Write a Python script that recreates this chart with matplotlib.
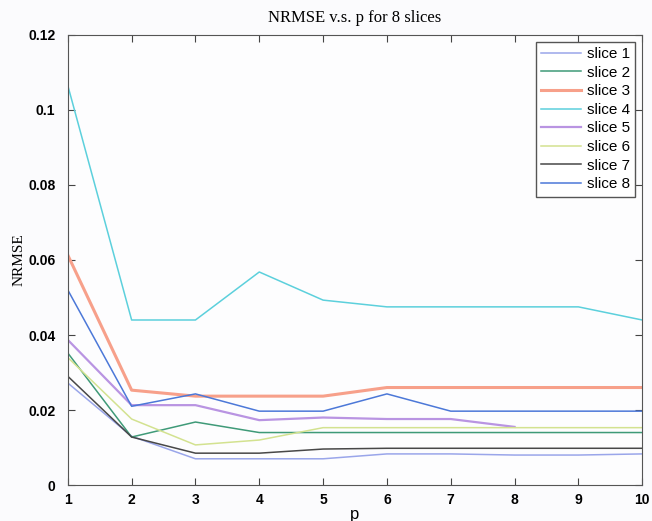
import numpy as np
import matplotlib.pyplot as plt

# p values and NRMSE per slice
p = [1, 2, 3, 4, 5, 6, 7, 8, 9, 10]
slice1 = [0.0272, 0.0130, 0.0070, 0.0070, 0.0070, 0.0083, 0.0083, 0.0080, 0.0080, 0.0083]
slice2 = [0.0352, 0.0128, 0.0168, 0.0140, 0.0140, 0.0140, 0.0140, 0.0140, 0.0140, 0.0140]
slice3 = [0.0613, 0.0253, 0.0237, 0.0237, 0.0237, 0.0260, 0.0260, 0.0260, 0.0260, 0.0260]
slice4 = [0.1065, 0.0440, 0.0440, 0.0568, 0.0493, 0.0475, 0.0475, 0.0475, 0.0475, 0.0440]
slice5 = [0.0387, 0.0213, 0.0213, 0.0173, 0.0180, 0.0176, 0.0176, 0.0155]
slice6 = [0.0340, 0.0176, 0.0107, 0.0120, 0.0153, 0.0153, 0.0153, 0.0153, 0.0153, 0.0153]
slice7 = [0.0290, 0.0128, 0.0085, 0.0085, 0.0096, 0.0098, 0.0098, 0.0098, 0.0098, 0.0098]
slice8 = [0.0520, 0.0210, 0.0243, 0.0197, 0.0197, 0.0243, 0.0197, 0.0197, 0.0197, 0.0197]

series = [slice1, slice2, slice3, slice4, slice5, slice6, slice7, slice8]
labels = ['slice 1', 'slice 2', 'slice 3', 'slice 4', 'slice 5', 'slice 6', 'slice 7', 'slice 8']
colors = ['#9aa6ea', '#3f9a78', '#f7a08a', '#5cd0dc', '#b994e2', '#d3e290', '#484848', '#4c78d8']
widths = [1.1, 1.1, 2.2, 1.1, 1.6, 1.1, 1.1, 1.1]

fig = plt.figure(figsize=(6.52, 5.21), dpi=100)
fig.patch.set_facecolor('#fbfbfd')
ax = fig.add_axes([0.104, 0.069, 0.881, 0.864])
ax.set_facecolor('#fdfdfe')

for ys, lab, c, w in zip(series, labels, colors, widths):
    ax.plot(p[:len(ys)], ys, color=c, lw=w, label=lab)

ax.set_xlim(1, 10)
ax.set_ylim(0, 0.12)
ax.set_xticks(p)
ax.set_yticks([0, 0.02, 0.04, 0.06, 0.08, 0.1, 0.12])
ax.set_yticklabels(['0', '0.02', '0.04', '0.06', '0.08', '0.1', '0.12'])
ax.tick_params(direction='in', top=True, right=True, length=5, color='#444444')
ax.tick_params(axis='y', pad=9)
ax.tick_params(axis='x', pad=6)
for lbl in ax.get_xticklabels() + ax.get_yticklabels():
    lbl.set_fontfamily('Liberation Sans')
    lbl.set_fontweight('bold')
    lbl.set_fontsize(10)
for s in ax.spines.values():
    s.set_color('#555555')

ax.set_title('NRMSE v.s. p for 8 slices', fontfamily='Liberation Serif', fontsize=12, pad=9)
ax.set_xlabel('p', fontfamily='Liberation Sans', fontsize=12, labelpad=0)
ax.set_ylabel('NRMSE', fontfamily='Liberation Serif', fontsize=11, labelpad=2)

leg = ax.legend(loc='upper right', prop={'family': 'Liberation Sans', 'size': 11},
                fancybox=False, edgecolor='#555555', framealpha=1,
                handlelength=2.6, labelspacing=0.3, borderpad=0.35, handletextpad=0.4,
                borderaxespad=0.45)
leg.get_frame().set_linewidth(1.0)

fig.savefig('out.png', dpi=100, facecolor=fig.get_facecolor())
